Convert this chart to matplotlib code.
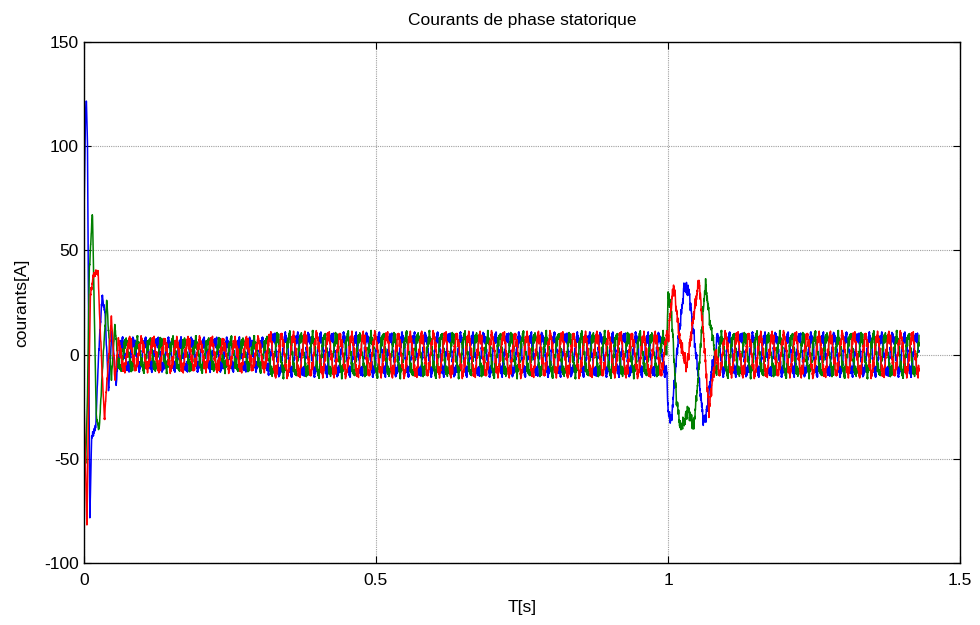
import numpy as np
import matplotlib
matplotlib.use("Agg")
import matplotlib.pyplot as plt

plt.rcParams['font.family'] = ['Liberation Sans', 'DejaVu Sans']
plt.rcParams['axes.unicode_minus'] = False

# values
t_end = 1.43          # end of simulation [s]
f_grid = 50.0         # stator frequency [Hz]
amp_times = [0.0, 0.31, 0.32, 1.43]   # envelope breakpoints [s]
amp_values = [6.5, 6.5, 9.0, 9.0]     # amplitude of the fundamental [A]
ripple_amp = [1.0, 1.2, 0.9, 0.8, 0.6]              # inverter ripple amplitudes [A]
ripple_freq = [230.0, 410.0, 670.0, 1130.0, 1790.0]  # inverter ripple frequencies [Hz]

# start-up transient, peaks
start_t_blue = [0.0, 0.002, 0.004, 0.006, 0.010, 0.013, 0.020, 0.025, 0.031, 0.036, 0.042, 0.048, 0.055, 0.062]
start_v_blue = [65, 110, 123, 100, -79, -40, -35, 0, 28, 20, -17, 12, -14, 8]
start_t_green = [0.0, 0.003, 0.006, 0.009, 0.0145, 0.017, 0.021, 0.026, 0.033, 0.039, 0.047, 0.053, 0.060]
start_v_green = [-35, -52, -20, 40, 69, 30, -30, -36, 0, 26, -12, 14, -8]
start_t_red = [0.0, 0.002, 0.005, 0.008, 0.011, 0.016, 0.024, 0.028, 0.035, 0.040, 0.047, 0.053, 0.060]
start_v_red = [-20, -45, -83, -20, 28, 38, 40, 10, -31, -10, 18, -12, 9]

# load step transient around t = 1 s
step_t_blue = [0.996, 1.000, 1.006, 1.015, 1.028, 1.036, 1.048, 1.061, 1.066, 1.076, 1.084]
step_v_blue = [0, -28, -31, 0, 33, 30, 0, -32, -28, -5, 0]
step_t_green = [0.996, 1.000, 1.006, 1.014, 1.021, 1.028, 1.034, 1.044, 1.052, 1.064, 1.072, 1.082]
step_v_green = [0, 30, 20, -20, -35, -32, -26, -35, -10, 34, 15, 0]
step_t_red = [0.998, 1.004, 1.010, 1.020, 1.032, 1.042, 1.053, 1.062, 1.070, 1.077, 1.084]
step_v_red = [0, 20, 33, 7, -6, 15, 36, 5, -27, -10, 0]

phases = {'b': 0.0, 'g': -2 * np.pi / 3, 'r': 2 * np.pi / 3}

t = np.arange(0, t_end, 2e-4)
amp = np.interp(t, amp_times, amp_values)


def window_weight(t, t0, t1, ramp=0.004):
    """1 inside [t0, t1], ramps to 0 at the edges."""
    w = np.clip((t - t0) / ramp, 0, 1) * np.clip((t1 - t) / ramp, 0, 1)
    return w


def phase_current(col, st_t, st_v, sp_t, sp_v, k):
    ripple = sum(a * np.sin(2 * np.pi * f * t + 1.7 * k * (i + 1) + 0.9 * i)
                 for i, (a, f) in enumerate(zip(ripple_amp, ripple_freq)))
    steady = amp * np.sin(2 * np.pi * f_grid * t + phases[col])
    start = np.interp(t, st_t, st_v)
    step = np.interp(t, sp_t, sp_v)
    w_start = np.where(t <= st_t[-1] - 0.004, 1.0, np.clip((st_t[-1] - t) / 0.004, 0, 1))
    w_step = window_weight(t, sp_t[0], sp_t[-1])
    i_a = steady * (1 - w_start) * (1 - w_step) + start * w_start + step * w_step
    return i_a + ripple * (1 - 0.5 * w_start)


i_blue = phase_current('b', start_t_blue, start_v_blue, step_t_blue, step_v_blue, 0)
i_green = phase_current('g', start_t_green, start_v_green, step_t_green, step_v_green, 1)
i_red = phase_current('r', start_t_red, start_v_red, step_t_red, step_v_red, 2)

fig = plt.figure(figsize=(9.8, 6.25), dpi=100)
ax = fig.add_axes([0.0857, 0.0992, 0.8939, 0.8336])

ax.plot(t, i_blue, color='b', lw=1.1)
ax.plot(t, i_green, color=(0, 0.5, 0), lw=1.1)
ax.plot(t, i_red, color='r', lw=1.1)

ax.set_xlim(0, 1.5)
ax.set_ylim(-100, 150)
ax.set_xticks([0, 0.5, 1, 1.5])
ax.set_xticklabels(['0', '0.5', '1', '1.5'])
ax.set_yticks([-100, -50, 0, 50, 100, 150])
ax.grid(True, color='#a0a0a0', linestyle=(0, (1, 1)), lw=0.8)
ax.tick_params(direction='in', top=True, right=True, length=5, labelsize=12.5)
ax.tick_params(axis='x', pad=7)
for s in ax.spines.values():
    s.set_linewidth(1.0)

ax.set_title('Courants de phase statorique', fontsize=12.5, pad=12)
ax.set_xlabel('T[s]', fontsize=12.5, labelpad=9)
ax.set_ylabel('courants[A]', fontsize=12.5, labelpad=11)

fig.savefig('out.png', dpi=100)
